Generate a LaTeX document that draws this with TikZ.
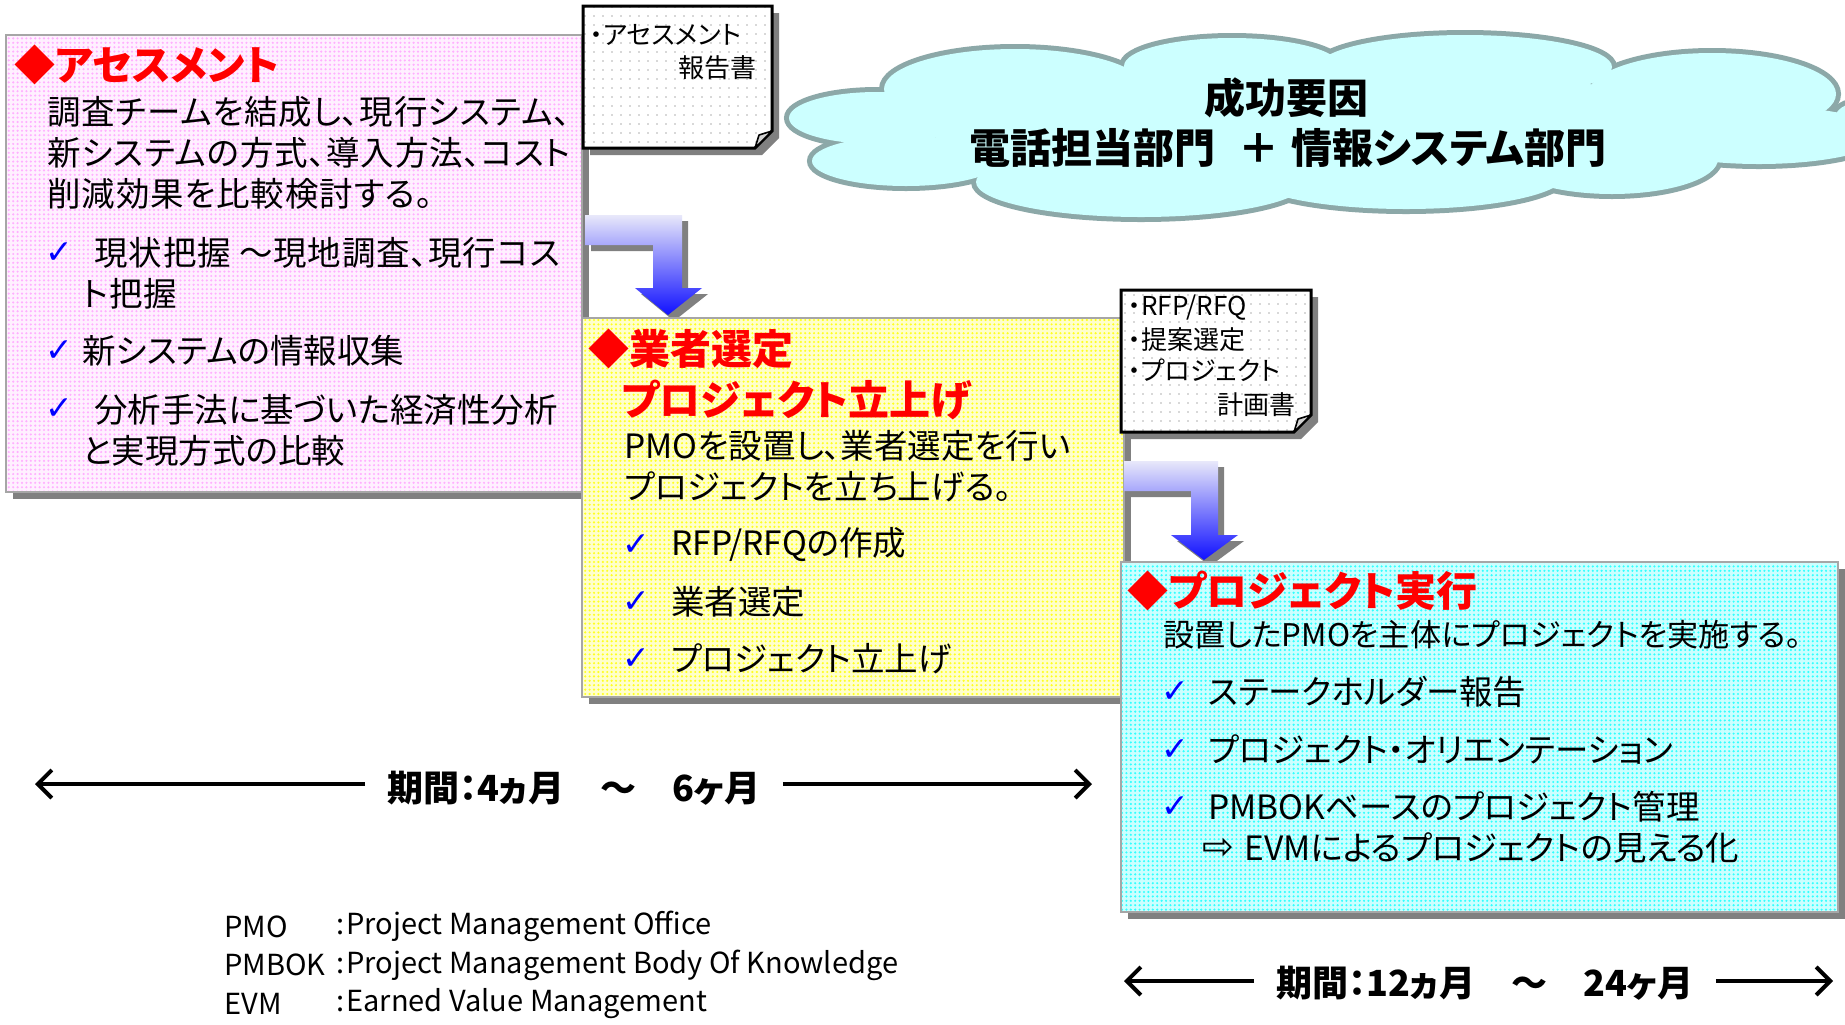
\documentclass[tikz,border=0pt]{standalone}
\usepackage{fontspec}
\setmainfont{Noto Sans CJK JP}[RawFeature=+palt]
\newfontfamily\symf{DejaVu Sans}
\usetikzlibrary{patterns,arrows.meta}

\definecolor{pinkbase}{HTML}{FFF0FF}
\definecolor{pinkdot}{HTML}{FFB0FF}
\definecolor{yelbase}{HTML}{FFFFCC}
\definecolor{yeldot}{HTML}{FFFF20}
\definecolor{cybase}{HTML}{CCFFFF}
\definecolor{cydot}{HTML}{30FFFF}
\definecolor{shadowgrey}{HTML}{808080}
\definecolor{boxedge}{HTML}{A6A6A6}
\definecolor{cloudfill}{HTML}{CCFFFF}
\definecolor{cloudedge}{HTML}{8CA8A8}
\definecolor{arrowtop}{HTML}{E8E8FA}
\definecolor{arrowbot}{HTML}{1010FF}
\definecolor{titlered}{HTML}{FF0000}
\definecolor{checkblue}{HTML}{0000FF}

\pgfdeclarepatternformonly{boxdots}{\pgfqpoint{-1pt}{-1pt}}{\pgfqpoint{1pt}{1pt}}{\pgfqpoint{2.2pt}{2.2pt}}{\pgfpathcircle{\pgfqpoint{0pt}{0pt}}{0.6pt}\pgfusepath{fill}}
\pgfdeclarepatternformonly{notedots}{\pgfqpoint{-1pt}{-1pt}}{\pgfqpoint{1pt}{1pt}}{\pgfqpoint{4.5pt}{4.5pt}}{\pgfpathcircle{\pgfqpoint{0pt}{0pt}}{0.45pt}\pgfusepath{fill}}

\tikzset{
  every node/.style={inner sep=0pt},
  ttl/.style={anchor=west, text=titlered, font=\fontsize{20.5}{25.5}\selectfont\bfseries},
  bodytext/.style={anchor=west, align=left, font=\fontsize{16.75}{20.5}\selectfont},
  widebody/.style={anchor=west, align=left, font=\fontsize{16.75}{20.5}\selectfont\addfontfeature{LetterSpace=2.5}},
  narrowbody/.style={anchor=west, align=left, font=\fontsize{15.6}{20.5}\selectfont},
  chk/.style={text=checkblue, font=\symf\bfseries\fontsize{16.5}{18}\selectfont},
  subarrow/.style={font=\symf\fontsize{19}{20}\selectfont},
  notetext/.style={font=\fontsize{13}{16}\selectfont},
  periodtext/.style={font=\fontsize{18}{22}\selectfont\bfseries, inner xsep=11pt},
  periodline/.style={line width=2pt, -{Straight Barb[length=7pt,width=14pt,line width=2pt]}},
  legend/.style={anchor=west, align=left, font=\fontsize{14.5}{19.25}\selectfont},
  cloudtext/.style={font=\fontsize{20.5}{25}\selectfont\bfseries},
  shadowfill/.style={fill=shadowgrey},
  pinkpanel/.style={fill=pinkbase, postaction={pattern=boxdots, pattern color=pinkdot}, postaction={draw=boxedge, line width=0.6pt}},
  yellowpanel/.style={fill=yelbase, postaction={pattern=boxdots, pattern color=yeldot}, postaction={draw=boxedge, line width=0.6pt}},
  cyanpanel/.style={fill=cybase, postaction={pattern=boxdots, pattern color=cydot}, postaction={draw=boxedge, line width=0.6pt}},
  notepanel/.style={fill=white, postaction={pattern=notedots, pattern color=gray!60}, postaction={draw=black, line width=1.5pt, line join=miter}},
  flap/.style={fill=gray!35, draw=black, line width=0.8pt, line join=round},
  bentarrow/.style={top color=arrowtop, bottom color=arrowbot},
  cloudline/.style={draw=cloudedge, line width=5pt},
  cloudbody/.style={fill=cloudfill},
}

\begin{document}
\begin{tikzpicture}[x=0.5pt,y=-0.5pt]
\useasboundingbox (0,0) rectangle (1845,1024);
\clip (0,0) rectangle (1845,1024);
\fill[white] (0,0) rectangle (1845,1024);

% ---------- Box 1: assessment ----------
\fill[shadowfill] (13,42) rectangle (589,499);
\path[pinkpanel] (6,35) rectangle (582,492);
\node[ttl] (t1) at (14,65) {◆アセスメント};
\node[widebody] (d1) at (47,153) {調査チームを結成し、現行システム、\\新システムの方式、導入方法、コスト\\削減効果を比較検討する。};
\node[chk] (c1a) at (59,253) {✓};
\node[widebody] (i1a) at (82,273.5) {\hspace{6pt}現状把握 ～現地調査、現行コス\\ト把握};
\node[chk] (c1b) at (59,351) {✓};
\node[bodytext] (i1b) at (82,351) {新システムの情報収集};
\node[chk] (c1c) at (59,409) {✓};
\node[bodytext] (i1c) at (82,430) {\hspace{6pt}分析手法に基づいた経済性分析\\と実現方式の比較};

% ---------- bent arrow 1 ----------
\fill[shadowfill, shift={(6,6)}] (585,215) -- (682,215) -- (682,288) -- (702,288) -- (668,315) -- (635,288) -- (653,288) -- (653,245) -- (585,245) -- cycle;
\shade[bentarrow] (585,215) -- (682,215) -- (682,288) -- (702,288) -- (668,315) -- (635,288) -- (653,288) -- (653,245) -- (585,245) -- cycle;

% ---------- Box 2: vendor selection ----------
\fill[shadowfill] (589,325) rectangle (1131,704);
\path[yellowpanel] (582,318) rectangle (1124,697);
\node[ttl] (t2a) at (588,349) {◆業者選定};
\node[ttl] (t2b) at (621,400) {プロジェクト立上げ};
\node[bodytext] (d2) at (624,466.5) {PMOを設置し、業者選定を行い\\プロジェクトを立ち上げる。};
\node[chk] (c2a) at (636,545) {✓};
\node[bodytext] (i2a) at (671,545) {RFP/RFQの作成};
\node[chk] (c2b) at (636,602) {✓};
\node[bodytext] (i2b) at (671,602) {業者選定};
\node[chk] (c2c) at (636,659) {✓};
\node[bodytext] (i2c) at (671,659) {プロジェクト立上げ};

% ---------- bent arrow 2 ----------
\fill[shadowfill, shift={(6,6)}] (1124,461) -- (1218,461) -- (1218,535) -- (1238,535) -- (1204,560) -- (1171,535) -- (1191,535) -- (1191,491) -- (1124,491) -- cycle;
\shade[bentarrow] (1124,461) -- (1218,461) -- (1218,535) -- (1238,535) -- (1204,560) -- (1171,535) -- (1191,535) -- (1191,491) -- (1124,491) -- cycle;

% ---------- Box 3: project execution ----------
\fill[shadowfill] (1128,569) rectangle (1845,919);
\path[cyanpanel] (1121,562) rectangle (1838,912);
\node[ttl] (t3) at (1127,591) {◆プロジェクト実行};
\node[narrowbody] (d3) at (1163,635) {設置したPMOを主体にプロジェクトを実施する。};
\node[chk] (c3a) at (1175,692) {✓};
\node[bodytext] (i3a) at (1208,692) {ステークホルダー報告};
\node[chk] (c3b) at (1175,750) {✓};
\node[bodytext] (i3b) at (1208,750) {プロジェクト・オリエンテーション};
\node[chk] (c3c) at (1175,807) {✓};
\node[bodytext] (i3c) at (1208,807) {PMBOKベースのプロジェクト管理};
\node[subarrow] (a3) at (1218,849) {⇨};
\node[bodytext] (i3d) at (1244,848) {EVMによるプロジェクトの見える化};

% ---------- Note 1 ----------
\fill[shadowfill] (590,13) -- (779,13) -- (779,138) -- (762,155) -- (590,155) -- cycle;
\path[notepanel] (583,6) -- (772,6) -- (772,131) -- (755,148) -- (583,148) -- cycle;
\path[flap] (755,148) -- (772,131) -- (759,135) -- cycle;
\node[notetext, anchor=west] (n1a) at (590,35) {・アセスメント};
\node[notetext, anchor=east] (n1b) at (757,68) {報告書};

% ---------- Note 2 ----------
\fill[shadowfill] (1128,297) -- (1318,297) -- (1318,422) -- (1301,439) -- (1128,439) -- cycle;
\path[notepanel] (1121,290) -- (1311,290) -- (1311,415) -- (1294,432) -- (1121,432) -- cycle;
\path[flap] (1294,432) -- (1311,415) -- (1298,419) -- cycle;
\node[notetext, anchor=west] (n2a) at (1128,308) {・RFP/RFQ};
\node[notetext, anchor=west] (n2b) at (1128,340) {・提案選定};
\node[notetext, anchor=west] (n2c) at (1128,370) {・プロジェクト};
\node[notetext, anchor=east] (n2d) at (1296,405) {計画書};

% ---------- Cloud ----------
\foreach \cx/\cy/\rx/\ry in {877/118/88/26, 906/161/94/25, 1015/89/131/40, 1232/66/108/28, 1465/67/147/32, 1712/94/124/41, 1759/135/124/29, 1853/124/20/20, 1612/159/106/35, 1406/175/159/34, 1141/182/165/35, 1306/124/380/60}
  {\path[cloudline] (\cx,\cy) ellipse [x radius=\rx, y radius=\ry];}
\foreach \cx/\cy/\rx/\ry in {877/118/88/26, 906/161/94/25, 1015/89/131/40, 1232/66/108/28, 1465/67/147/32, 1712/94/124/41, 1759/135/124/29, 1853/124/20/20, 1612/159/106/35, 1406/175/159/34, 1141/182/165/35, 1306/124/380/60}
  {\path[cloudbody] (\cx,\cy) ellipse [x radius=\rx, y radius=\ry];}
\node[cloudtext] (k1) at (1286,98) {成功要因};
\node[cloudtext] (k2) at (1288,148) {電話担当部門\hspace{0.55em}＋\hspace{0.3em}情報システム部門};

% ---------- period arrows ----------
\node[periodtext] (pa) at (574,788) {期間：4ヵ月　～　6ヶ月};
\coordinate (paL) at (35,784);
\coordinate (paR) at (1092,784);
\draw[periodline] (pa.west |- paL) -- (paL);
\draw[periodline] (pa.east |- paR) -- (paR);

\node[periodtext] (pb) at (1485,983) {期間：12ヵ月　～　24ヶ月};
\coordinate (pbL) at (1124,981);
\coordinate (pbR) at (1833,981);
\draw[periodline] (pb.west |- pbL) -- (pbL);
\draw[periodline] (pb.east |- pbR) -- (pbR);

% ---------- legend ----------
\node[legend] (abbr) at (224,965) {PMO\\PMBOK\\EVM};
\node[legend] (defs) at (336,965) {:\kern1pt Project Management Office\\:\kern1pt Project Management Body Of Knowledge\\:\kern1pt Earned Value Management};
\end{tikzpicture}
\end{document}
